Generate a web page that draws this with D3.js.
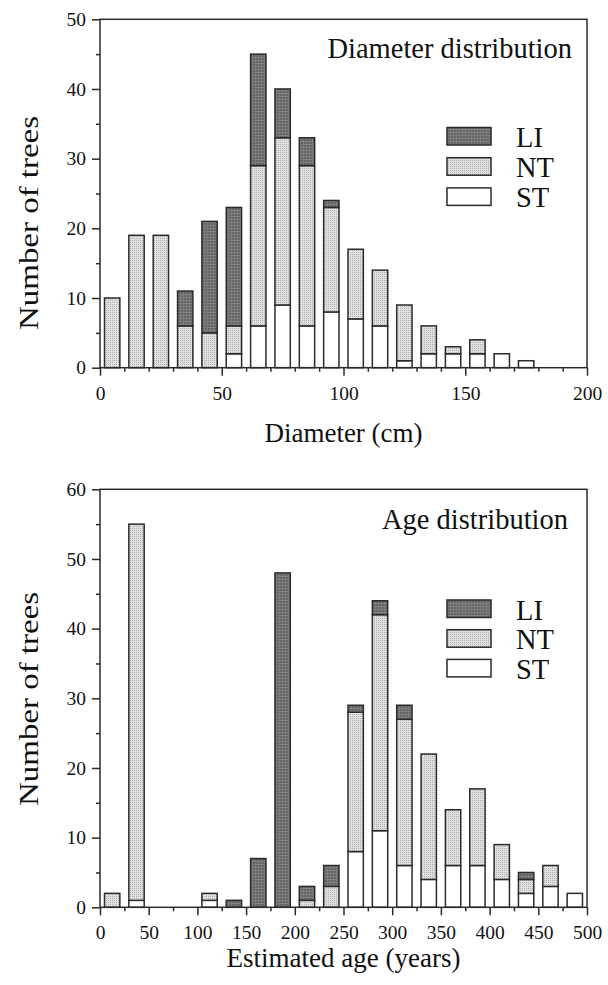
<!DOCTYPE html>
<html>
<head>
<meta charset="utf-8">
<script src="https://cdn.jsdelivr.net/npm/d3@7"></script>
<style>
  html, body { margin: 0; padding: 0; background: #fff; }
  svg { display: block; }
  text { font-family: "Liberation Serif", "Times New Roman", serif; fill: #111; }
</style>
</head>
<body>
<svg id="chart" width="608" height="985"></svg>
<script>
// ---------- DATA ----------
const diamBins = [5,15,25,35,45,55,65,75,85,95,105,115,125,135,145,155,165,175];
const diamST   = [0,0,0,0,0,2,6,9,6,8,7,6,1,2,2,2,2,1];
const diamNT   = [10,19,19,6,5,4,23,24,23,15,10,8,8,4,1,2,0,0];
const diamLI   = [0,0,0,5,16,17,16,7,4,1,0,0,0,0,0,0,0,0];

const ageBins = [12.5,37.5,62.5,87.5,112.5,137.5,162.5,187.5,212.5,237.5,262.5,287.5,312.5,337.5,362.5,387.5,412.5,437.5,462.5,487.5];
const ageST   = [0,1,0,0,1,0,0,0,0,0,8,11,6,4,6,6,4,2,3,2];
const ageNT   = [2,54,0,0,1,0,0,0,1,3,20,31,21,18,8,11,5,2,3,0];
const ageLI   = [0,0,0,0,0,1,7,48,2,3,1,2,2,0,0,0,0,1,0,0];

const seriesNames = ["ST","NT","LI"];
const legendOrder = ["LI","NT","ST"];

const diamXTicks = [0,50,100,150,200];
const diamYTicks = [0,10,20,30,40,50];
const ageXTicks = [0,50,100,150,200,250,300,350,400,450,500];
const ageYTicks = [0,10,20,30,40,50,60];

// ---------- SETUP ----------
const svg = d3.select("#chart");
const defs = svg.append("defs");

// LI: dark grey crosshatch
const pLI = defs.append("pattern").attr("id","pLI").attr("patternUnits","userSpaceOnUse")
  .attr("width",3).attr("height",3);
pLI.append("rect").attr("width",3).attr("height",3).attr("fill","#656565");
pLI.append("rect").attr("width",3).attr("height",1).attr("fill","#828282");
pLI.append("rect").attr("width",1).attr("height",3).attr("fill","#7c7c7c");

// NT: light grey dotted
const pNT = defs.append("pattern").attr("id","pNT").attr("patternUnits","userSpaceOnUse")
  .attr("width",2).attr("height",2);
pNT.append("rect").attr("width",2).attr("height",2).attr("fill","#e0e0e0");
pNT.append("rect").attr("width",1).attr("height",1).attr("fill","#b0b0b0");

const fills = { LI: "url(#pLI)", NT: "url(#pNT)", ST: "#ffffff" };
const lineColor = "#2a2a2a";

function drawPanel(cfg) {
  const g = svg.append("g");
  const x = d3.scaleLinear().domain(cfg.xDomain).range([cfg.left, cfg.right]);
  const y = d3.scaleLinear().domain(cfg.yDomain).range([cfg.bottom, cfg.top]);
  const binW = x(cfg.binWidth) - x(0);
  const barW = binW * 0.63;

  const rows = cfg.bins.map((b, i) => ({ bin: b, ST: cfg.ST[i], NT: cfg.NT[i], LI: cfg.LI[i] }));
  const stack = d3.stack().keys(seriesNames)(rows);

  stack.forEach(layer => {
    g.append("g").selectAll("rect")
      .data(layer.filter(d => d[1] - d[0] > 0))
      .join("rect")
      .attr("x", d => x(d.data.bin) - barW / 2)
      .attr("width", barW)
      .attr("y", d => y(d[1]))
      .attr("height", d => y(d[0]) - y(d[1]))
      .attr("fill", fills[layer.key])
      .attr("stroke", lineColor)
      .attr("stroke-width", 1.5);
  });

  // frame
  g.append("rect")
    .attr("x", cfg.left).attr("y", cfg.top)
    .attr("width", cfg.right - cfg.left).attr("height", cfg.bottom - cfg.top)
    .attr("fill", "none").attr("stroke", lineColor).attr("stroke-width", 1.5);

  // y axis
  const yMinor = d3.range(cfg.yDomain[0], cfg.yDomain[1] + 0.01, 5).filter(v => v % 10 !== 0);
  const yAxisMinor = g.append("g").attr("transform", `translate(${cfg.left},0)`)
    .call(d3.axisLeft(y).tickValues(yMinor).tickSize(4).tickFormat(""));
  const yAxisMajor = g.append("g").attr("transform", `translate(${cfg.left},0)`)
    .call(d3.axisLeft(y).tickValues(cfg.yTicks).tickSize(8).tickPadding(6).tickFormat(d3.format("d")));
  [yAxisMinor, yAxisMajor].forEach(a => {
    a.select(".domain").remove();
    a.selectAll("line").attr("stroke", lineColor).attr("stroke-width", 1.5);
  });
  yAxisMajor.selectAll("text").attr("font-size", 19.5).attr("fill", "#111");

  // x axis
  const xMinor = d3.range(cfg.xDomain[0], cfg.xDomain[1] + 0.01, cfg.xMinorStep)
    .filter(v => !cfg.xTicks.includes(v));
  const xAxisMinor = g.append("g").attr("transform", `translate(0,${cfg.bottom})`)
    .call(d3.axisBottom(x).tickValues(xMinor).tickSize(4).tickFormat(""));
  const xAxisMajor = g.append("g").attr("transform", `translate(0,${cfg.bottom})`)
    .call(d3.axisBottom(x).tickValues(cfg.xTicks).tickSize(8).tickPadding(10).tickFormat(d3.format("d")));
  [xAxisMinor, xAxisMajor].forEach(a => {
    a.select(".domain").remove();
    a.selectAll("line").attr("stroke", lineColor).attr("stroke-width", 1.5);
  });
  xAxisMajor.selectAll("text").attr("font-size", 19.5).attr("fill", "#111");

  // title
  g.append("text").attr("x", cfg.titleX).attr("y", cfg.titleY)
    .attr("text-anchor", "end").attr("font-size", 28.5).text(cfg.title);

  // x label
  g.append("text").attr("x", (cfg.left + cfg.right) / 2).attr("y", cfg.xLabelY)
    .attr("text-anchor", "middle").attr("font-size", 27).text(cfg.xLabel);

  // y label
  g.append("text")
    .attr("transform", `translate(38,${cfg.yLabelCY}) rotate(-90)`)
    .attr("text-anchor", "middle").attr("font-size", 28)
    .attr("textLength", 214).attr("lengthAdjust", "spacingAndGlyphs")
    .text("Number of trees");

  // legend
  const lg = g.append("g");
  legendOrder.forEach((k, i) => {
    const yy = cfg.legendY + i * cfg.legendStep;
    lg.append("rect").attr("x", 447).attr("y", yy).attr("width", 44).attr("height", 17.5)
      .attr("fill", fills[k]).attr("stroke", lineColor).attr("stroke-width", 1.5);
    lg.append("text").attr("x", 516).attr("y", yy + 19.5).attr("font-size", 28.5).text(k);
  });
}

drawPanel({
  left: 100, right: 587, top: 19.3, bottom: 367.7,
  xDomain: [0, 200], yDomain: [0, 50], binWidth: 10, xMinorStep: 10,
  bins: diamBins, ST: diamST, NT: diamNT, LI: diamLI,
  xTicks: diamXTicks, yTicks: diamYTicks,
  title: "Diameter distribution", titleX: 572, titleY: 58,
  xLabel: "Diameter (cm)", xLabelY: 442, yLabelCY: 223,
  legendY: 127.5, legendStep: 30.2
});

drawPanel({
  left: 100, right: 587, top: 489.3, bottom: 907.3,
  xDomain: [0, 500], yDomain: [0, 60], binWidth: 25, xMinorStep: 25,
  bins: ageBins, ST: ageST, NT: ageNT, LI: ageLI,
  xTicks: ageXTicks, yTicks: ageYTicks,
  title: "Age distribution", titleX: 568, titleY: 528.5,
  xLabel: "Estimated age (years)", xLabelY: 967, yLabelCY: 699,
  legendY: 600, legendStep: 29.7
});
</script>
</body>
</html>
